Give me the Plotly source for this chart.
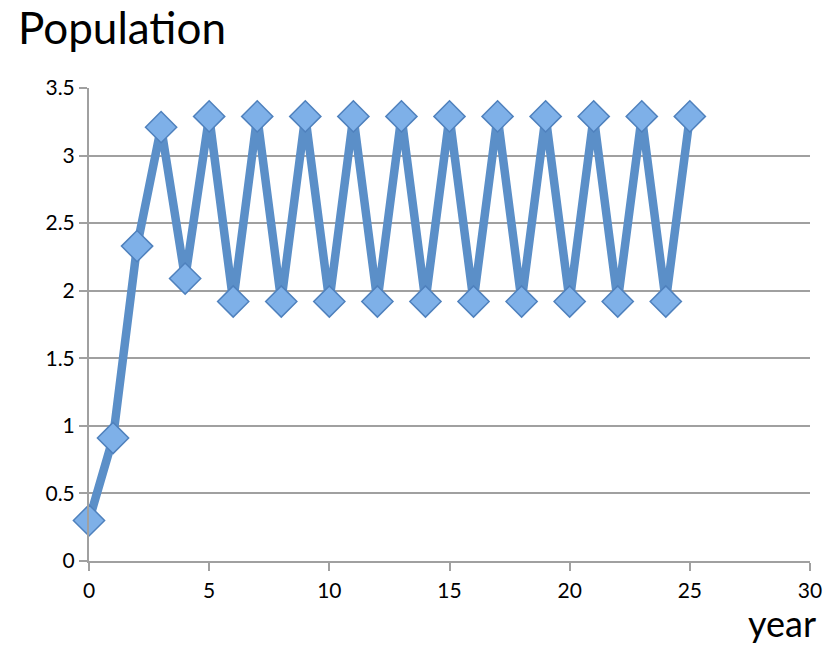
import plotly.graph_objects as go

years = list(range(26))
population = [0.30, 0.91, 2.33, 3.21, 2.09, 3.29, 1.92, 3.29, 1.92, 3.29, 1.92, 3.29, 1.92,
              3.29, 1.92, 3.29, 1.92, 3.29, 1.92, 3.29, 1.92, 3.29, 1.92, 3.29, 1.92, 3.29]
x_ticks = [0, 5, 10, 15, 20, 25, 30]
y_ticks = [0, 0.5, 1, 1.5, 2, 2.5, 3, 3.5]
y_tick_text = ["0", "0.5", "1", "1.5", "2", "2.5", "3", "3.5"]

font = "Lato, Open Sans, sans-serif"

fig = go.Figure()
fig.add_trace(go.Scatter(
    x=years, y=population, mode="lines+markers",
    line=dict(color="#5B8FC8", width=8.5),
    marker=dict(symbol="diamond", size=24, color="#7EB0E8",
                line=dict(color="#4F81BD", width=1.5)),
    cliponaxis=False,
))

fig.update_layout(
    width=839, height=645,
    margin=dict(l=89, r=29, t=88, b=84),
    paper_bgcolor="white", plot_bgcolor="white",
    showlegend=False,
    font=dict(family=font, color="black", size=21),
    xaxis=dict(range=[0, 30], tickvals=x_ticks, showgrid=False, zeroline=False,
               showline=True, linecolor="#A0A0A0", linewidth=2,
               ticks="outside", ticklen=8, tickcolor="#A0A0A0", tickwidth=2,
               ticklabelstandoff=2,
               tickfont=dict(size=21), fixedrange=True),
    yaxis=dict(range=[0, 3.5], tickvals=y_ticks, ticktext=y_tick_text,
               showgrid=True, gridcolor="#A0A0A0", gridwidth=1.5, zeroline=False,
               showline=True, linecolor="#A0A0A0", linewidth=2,
               ticks="outside", ticklen=8, tickcolor="#A0A0A0", tickwidth=2,
               ticklabelstandoff=0,
               tickfont=dict(size=21), fixedrange=True),
)
fig.add_annotation(text="Population", xref="paper", yref="paper",
                   x=-89 / 721 + 16 / 721, y=1 + 88 / 473 - 27 / 473,
                   xanchor="left", yanchor="middle", showarrow=False,
                   font=dict(size=44, family=font))
fig.add_annotation(text="year", xref="paper", yref="paper",
                   x=1 + 8 / 721, y=-62 / 473,
                   xanchor="right", yanchor="middle", showarrow=False,
                   font=dict(size=36, family=font))

fig.write_html("out.html")
